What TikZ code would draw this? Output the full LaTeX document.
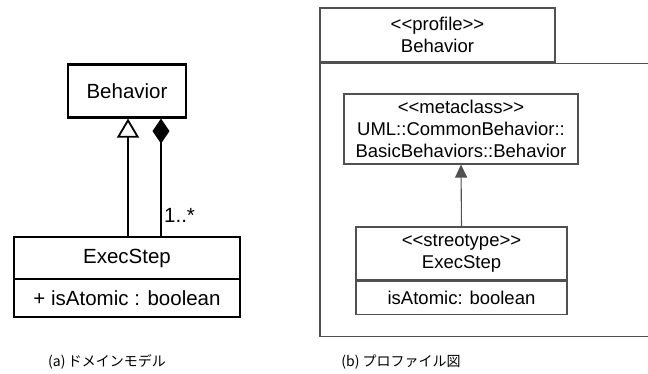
\documentclass[tikz,border=0pt]{standalone}
\usepackage{fontspec}
\setmainfont{Liberation Sans}
\newfontfamily\cjk{Noto Sans CJK JP}
\usetikzlibrary{arrows.meta}
\definecolor{pkgline}{HTML}{505050}
% guillemet-free stereotype brackets
\newcommand\stlt{<\kern0pt<}
\newcommand\stgt{>\kern0pt>}
\tikzset{
  umlfont/.style={font=\fontsize{18.5}{22}\selectfont},
  bigfont/.style={font=\fontsize{20.5}{24}\selectfont},
  thickbox/.style={draw=black, line width=2.2pt, inner sep=0pt, bigfont, align=center},
  thinbox/.style={draw=pkgline, line width=1.1pt, inner sep=0pt, umlfont, align=center},
  umlline/.style={draw=black, line width=1.8pt},
  caption/.style={font=\cjk\fontsize{14}{17}\selectfont}
}
\begin{document}
\begin{tikzpicture}[x=1pt, y=-1pt]
\clip (0,0) rectangle (648,374);
\fill[white] (0,0) rectangle (648,374);

% ---- (a) domain model ----
\node[thickbox, minimum width=118pt, minimum height=53pt] (beh) at (127,91) {Behavior};
\node[thickbox, minimum width=226pt, minimum height=42pt] (execHead) at (127,258) {ExecStep};
\node[thickbox, minimum width=226pt, minimum height=38pt] (execAttr) at (127,298) {+ isAtomic : boolean};

% generalization (hollow triangle) and composition (filled diamond)
\draw[umlline, -{Triangle[open, width=22pt, length=19pt, line width=1.8pt]}]
  ([xshift=1pt]execHead.north) -- ([xshift=1pt]beh.south);
\draw[umlline, -{Diamond[width=17pt, length=25pt]}]
  ([xshift=34pt]execHead.north) -- ([xshift=34pt]beh.south);
\node[bigfont, anchor=west, inner sep=0pt] (mult) at (164,215) {1..*};

% ---- (b) profile diagram ----
\node[thinbox, minimum width=235pt, minimum height=54pt] (tab) at (437.5,35) {\stlt profile\stgt\\Behavior};
\node[thinbox, minimum width=380pt, minimum height=273pt, anchor=north west] (pkg) at (tab.south west) {};
\node[thinbox, minimum width=234pt, minimum height=70pt] (meta) at (461,129)
  {\stlt metaclass\stgt\\UML::CommonBehavior::\\BasicBehaviors::Behavior};
\node[thinbox, minimum width=211pt, minimum height=53pt] (stHead) at (461.5,253.5) {\stlt streotype\stgt\\ExecStep};
\node[thinbox, minimum width=211pt, minimum height=33pt, anchor=north] (stAttr) at (stHead.south) {isAtomic: boolean};

\draw[draw=pkgline, line width=1.1pt, -{Triangle[width=12pt, length=13pt]}]
  (stHead.north) -- (meta.south);

% ---- captions ----
\node[caption] (capA) at (107,362) {(a)\,ドメインモデル};
\node[caption] (capB) at (401,362) {(b) プロファイル図};
\end{tikzpicture}
\end{document}
